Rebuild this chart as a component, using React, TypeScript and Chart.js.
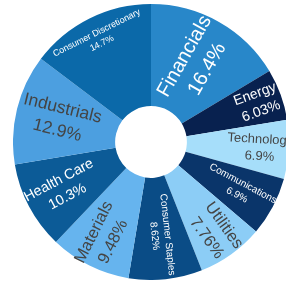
import React, { useEffect, useRef } from "react";
import { Chart, registerables } from "chart.js";

Chart.register(...registerables);

const categories = [
  "Financials",
  "Energy",
  "Technology",
  "Communications",
  "Utilities",
  "Consumer Staples",
  "Materials",
  "Health Care",
  "Industrials",
  "Consumer Discretionary",
];
const shares = [16.4, 6.03, 6.9, 6.9, 7.76, 8.62, 9.48, 10.3, 12.9, 14.7];

const sliceColors = [
  "#2887c9",
  "#08214f",
  "#a6defa",
  "#0a356a",
  "#8ccdf6",
  "#0a4c86",
  "#66b4ee",
  "#0c5b97",
  "#4c9fe0",
  "#0b69a9",
];
const labelColors = ["#fff", "#fff", "#444", "#fff", "#444", "#fff", "#444", "#fff", "#444", "#fff"];
const labelSizes = [20, 14, 13, 10, 16.5, 10, 16.5, 14.3, 17.5, 9];
const labelRadii = [0.66, 0.826, 0.79, 0.73, 0.8, 0.68, 0.77, 0.72, 0.68, 0.84];
const labelOrient = ["r", "r", "r", "r", "r", "r", "r", "r", "r", "t"];

const CX = 151;
const CY = 142;
const R = 138;

const fmt = (v: number) => String(parseFloat(v.toPrecision(3))) + "%";

const labelPlugin = {
  id: "sliceLabels",
  afterDatasetsDraw(chart: any) {
    const ctx = chart.ctx as CanvasRenderingContext2D;
    const meta = chart.getDatasetMeta(0);
    meta.data.forEach((arc: any, i: number) => {
      const { x, y, startAngle, endAngle, outerRadius } = arc.getProps(
        ["x", "y", "startAngle", "endAngle", "outerRadius"],
        true
      );
      const mid = (startAngle + endAngle) / 2;
      const r = outerRadius * labelRadii[i];
      const px = x + r * Math.cos(mid);
      const py = y + r * Math.sin(mid);
      let rot: number;
      if (labelOrient[i] === "t") {
        rot = mid + Math.PI / 2;
        if (Math.sin(mid) > 0) rot += Math.PI;
      } else {
        rot = mid;
        if (Math.cos(mid) < 0) rot += Math.PI;
      }
      const size = labelSizes[i];
      const gap = size * 1.3;
      ctx.save();
      ctx.translate(px, py);
      ctx.rotate(rot);
      ctx.fillStyle = labelColors[i];
      ctx.font = `${size}px "Liberation Sans", Arial, sans-serif`;
      ctx.textAlign = "center";
      ctx.textBaseline = "middle";
      ctx.fillText(categories[i], 0, -gap / 2);
      ctx.fillText(fmt(shares[i]), 0, gap / 2);
      ctx.restore();
    });
  },
};

export default function App() {
  const ref = useRef<HTMLCanvasElement | null>(null);
  useEffect(() => {
    if (!ref.current) return;
    const chart = new Chart(ref.current, {
      type: "doughnut",
      data: {
        labels: categories,
        datasets: [
          {
            data: shares,
            backgroundColor: sliceColors,
            borderWidth: 0,
          },
        ],
      },
      options: {
        responsive: false,
        animation: false,
        cutout: "26%",
        layout: { padding: 0 },
        plugins: {
          legend: { display: false },
          tooltip: { enabled: false },
        },
      },
      plugins: [labelPlugin],
    });
    return () => chart.destroy();
  }, []);
  return (
    <div
      style={{
        position: "fixed",
        left: 0,
        top: 0,
        width: 286,
        height: 281,
        overflow: "hidden",
        background: "#fff",
      }}
    >
      <canvas
        ref={ref}
        width={2 * R}
        height={2 * R}
        style={{
          position: "absolute",
          left: CX - R,
          top: CY - R,
          width: 2 * R,
          height: 2 * R,
        }}
      />
    </div>
  );
}
